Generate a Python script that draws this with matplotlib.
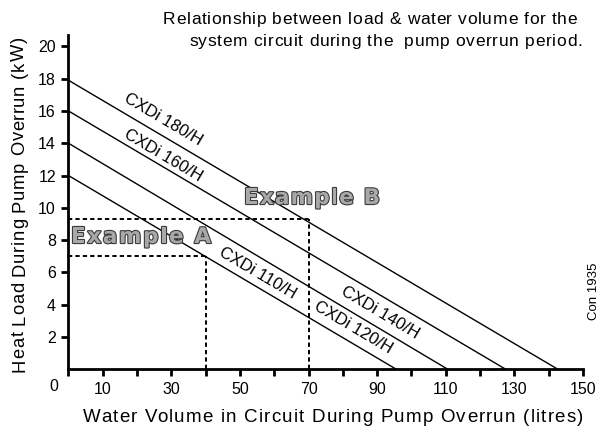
import matplotlib
matplotlib.use('Agg')
import matplotlib.pyplot as plt
import matplotlib.patheffects as pe
from matplotlib.transforms import IdentityTransform
import numpy as np

plt.rcParams['font.family'] = ['Liberation Sans', 'DejaVu Sans']

# boiler lines: load at zero volume -> volume at zero load
load_start = [12.0, 14.0, 16.0, 17.9]
volume_end = [95.6, 110.6, 127.5, 142.7]

# model labels and where they sit (data coords), plus which line they follow
model_labels = ['CXDi 180/H', 'CXDi 160/H', 'CXDi 110/H', 'CXDi 140/H', 'CXDi 120/H']
label_xy = [(27.5, 15.5), (27.5, 13.25), (55.0, 5.95), (90.8, 3.5), (83.0, 2.6)]
label_line = [3, 2, 0, 1, 0]

# worked examples: (volume, load)
example_names = ['Example A', 'Example B']
example_vol = [40, 70]
example_load = [7.0, 9.3]

x_ticks = np.arange(0, 151, 10)
x_tick_labels = ['' if v % 20 == 0 else str(v) for v in x_ticks]
y_ticks = np.arange(2, 21, 2)

title_1 = 'Relationship between load & water volume for the'
title_2 = 'system circuit during the  pump overrun period.'
x_title = 'Water Volume in Circuit During Pump Overrun (litres)'
y_title = 'Heat Load During Pump Overrun (kW)'

fig = plt.figure(figsize=(6.06, 4.28), dpi=100)
ax = fig.add_axes([0.113, 0.1371, 0.849, 0.781])
renderer = fig.canvas.get_renderer()


def text_w(s, **kw):
    t = fig.text(0, 0, s, **kw)
    w = t.get_window_extent(renderer).width
    t.remove()
    return w


def tracked(s, x0, x1, y, rot=0, effects=None, zorder=6, **kw):
    """draw s so it spans pixels x0..x1 (along its direction), baseline at y"""
    n = len(s)
    track = (x1 - x0 - text_w(s, **kw)) / (n - 1)
    for i, ch in enumerate(s):
        if ch == ' ':
            continue
        p = x0 + text_w(s[:i] + ch, **kw) - text_w(ch, **kw) + i * track
        xy = (p, y) if rot == 0 else (y, p)
        t = fig.text(xy[0], xy[1], ch, transform=IdentityTransform(), rotation=rot,
                     rotation_mode='anchor', ha='left', va='baseline', zorder=zorder, **kw)
        if effects:
            t.set_path_effects(effects)


H = 428
for l0, v0 in zip(load_start, volume_end):
    ax.plot([0, v0], [l0, 0], color='black', lw=1.0, zorder=4)

for v, l in zip(example_vol, example_load):
    ax.plot([0, v], [l, l], color='black', lw=1.4, ls=(0, (2.2, 1.6)), zorder=3)
    ax.plot([v, v], [0, l], color='black', lw=1.4, ls=(0, (2.2, 1.6)), zorder=3)

for lab, (tx, ty), li in zip(model_labels, label_xy, label_line):
    ang = np.degrees(np.arctan2(-load_start[li], volume_end[li]))
    ax.text(tx, ty, lab, fontsize=12, rotation=ang, rotation_mode='anchor',
            transform_rotates_text=True, ha='center', va='center', zorder=5)

ax.set_xlim(0, 150)
ax.set_ylim(0, 20.7)
ax.spines['top'].set_visible(False)
ax.spines['right'].set_visible(False)
ax.spines['left'].set_linewidth(2)
ax.spines['bottom'].set_linewidth(2)
ax.set_xticks(x_ticks)
ax.set_xticklabels(x_tick_labels)
ax.set_yticks(y_ticks)
ax.tick_params(axis='both', direction='out', length=5, width=2, labelsize=11.5, pad=4)
ax.text(-3.0, -0.6, '0', fontsize=11.5, ha='right', va='top')

# titles with the loose letter spacing of the original
tracked(title_1, 163, 577, H - 24, fontsize=12.5)
tracked(title_2, 189, 582, H - 46, fontsize=12.5)
tracked(x_title, 83, 583, H - 422, fontsize=13.5)
tracked(y_title, H - 372, H - 37, 24, rot=90, fontsize=13.2)
fig.text(0.980, 0.32, 'Con 1935', fontsize=9.5, rotation=90, ha='center', va='center')

# outlined example captions
outline = [pe.withStroke(linewidth=1.6, foreground='#3c3c3c')]
tracked(example_names[0], 71, 211, H - 243, effects=outline, zorder=2,
        fontsize=15.5, fontweight='bold', family='DejaVu Sans', color='#a8a8a8')
tracked(example_names[1], 244, 380, H - 204, effects=outline, zorder=2,
        fontsize=15.5, fontweight='bold', family='DejaVu Sans', color='#a8a8a8')

fig.savefig('out.png', dpi=100)
